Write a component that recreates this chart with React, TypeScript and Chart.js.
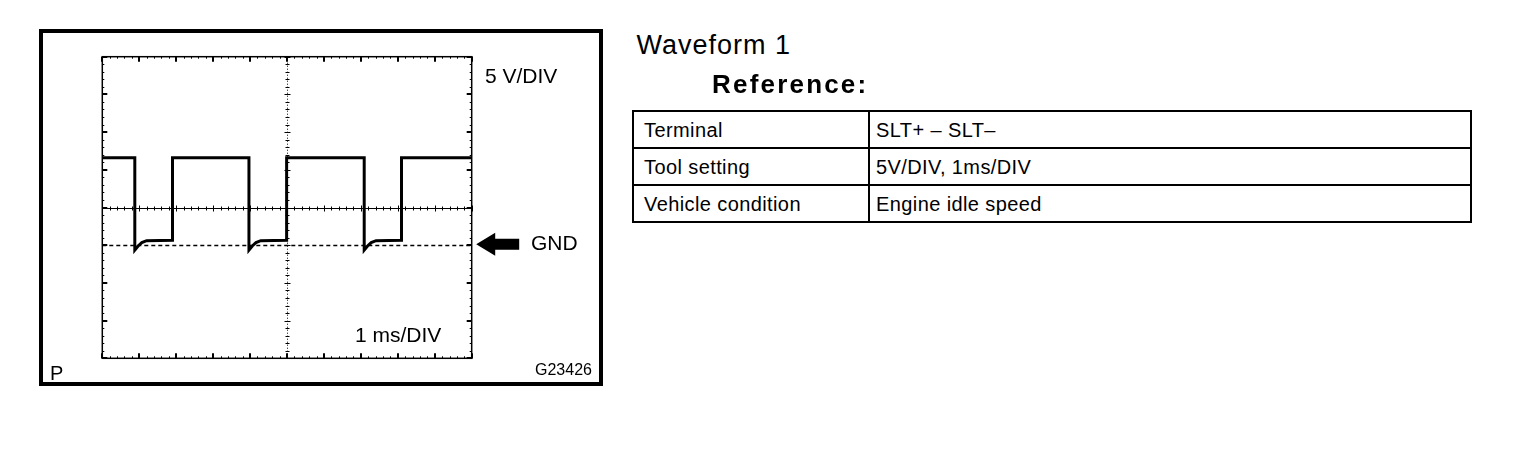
import React, { useEffect, useRef } from "react";
import { Chart, registerables } from "chart.js";

Chart.register(...registerables);

// ---- Data ----
// time in ms, voltage in V (5 V/DIV, 1 ms/DIV, GND three divisions above bottom)
const timeMs = [0, 0.88, 0.88, 0.97, 1.07, 1.2, 1.9, 1.9, 3.97, 3.97, 4.06, 4.16, 4.29, 4.99, 4.99, 7.09, 7.09, 7.18, 7.28, 7.41, 8.1, 8.1, 10];
const voltage = [11.6, 11.6, -0.65, -0.1, 0.35, 0.6, 0.65, 11.6, 11.6, -0.65, -0.1, 0.35, 0.6, 0.65, 11.6, 11.6, -0.65, -0.1, 0.35, 0.6, 0.65, 11.6, 11.6];

const xTicksMs = [0, 1, 2, 3, 4, 5, 6, 7, 8, 9, 10];
const yTicksV = [-15, -10, -5, 0, 5, 10, 15, 20, 25];
const centerTimeMs = 5;
const centerVoltage = 5;
const gndVoltage = 0;

const voltLabel = "5 V/DIV";
const timeLabel = "1 ms/DIV";
const gndLabel = "GND";
const figureCode = "G23426";
const cornerMark = "P";

const titleText = "Waveform 1";
const subtitleText = "Reference:";
const tableLabels = ["Terminal", "Tool setting", "Vehicle condition"];
const tableValues = ["SLT+ \u2013 SLT\u2013", "5V/DIV, 1ms/DIV", "Engine idle speed"];

const FONT = '"Liberation Sans", Arial, Helvetica, sans-serif';

const graticulePlugin = {
  id: "graticule",
  beforeDatasetsDraw(chart: any) {
    const { ctx, chartArea, scales } = chart;
    const { left, right, top, bottom } = chartArea;
    const xs = scales.x;
    const ys = scales.y;
    const line = (x1: number, y1: number, x2: number, y2: number) => {
      ctx.beginPath();
      ctx.moveTo(x1, y1);
      ctx.lineTo(x2, y2);
      ctx.stroke();
    };
    ctx.save();
    ctx.strokeStyle = "#000";

    // minor ticks (5 per division) along the edges
    ctx.lineWidth = 1;
    const xStep = (xTicksMs[1] - xTicksMs[0]) / 5;
    const yStep = (yTicksV[1] - yTicksV[0]) / 5;
    for (let v = xTicksMs[0]; v <= xTicksMs[xTicksMs.length - 1] + 1e-9; v += xStep) {
      const px = Math.round(xs.getPixelForValue(v)) + 0.5;
      line(px, top, px, top + 2);
      line(px, bottom, px, bottom - 2);
    }
    for (let v = yTicksV[0]; v <= yTicksV[yTicksV.length - 1] + 1e-9; v += yStep) {
      const py = Math.round(ys.getPixelForValue(v)) + 0.5;
      line(left, py, left + 2, py);
      line(right, py, right - 2, py);
    }

    // major ticks
    ctx.lineWidth = 2;
    xTicksMs.forEach((v) => {
      const px = Math.round(xs.getPixelForValue(v));
      line(px, top, px, top + 5);
      line(px, bottom, px, bottom - 5);
    });
    yTicksV.forEach((v) => {
      const py = Math.round(ys.getPixelForValue(v));
      line(left, py, left + 5, py);
      line(right, py, right - 5, py);
    });

    // center vertical dotted line with small crosses
    const cx = Math.round(xs.getPixelForValue(centerTimeMs)) + 0.5;
    ctx.lineWidth = 1;
    ctx.setLineDash([1, 2]);
    line(cx, top, cx, bottom);
    ctx.setLineDash([]);
    for (let v = yTicksV[0]; v <= yTicksV[yTicksV.length - 1] + 1e-9; v += yStep) {
      const py = Math.round(ys.getPixelForValue(v)) + 0.5;
      line(cx - 2, py, cx + 2, py);
    }
    yTicksV.forEach((v) => {
      const py = Math.round(ys.getPixelForValue(v)) + 0.5;
      line(cx - 3, py, cx + 3, py);
    });

    // center horizontal line with small ticks
    const cy = Math.round(ys.getPixelForValue(centerVoltage)) + 0.5;
    ctx.lineWidth = 1;
    line(left, cy, right, cy);
    for (let v = xTicksMs[0]; v <= xTicksMs[xTicksMs.length - 1] + 1e-9; v += xStep) {
      const px = Math.round(xs.getPixelForValue(v)) + 0.5;
      line(px, cy - 2, px, cy + 2);
    }
    xTicksMs.forEach((v) => {
      const px = Math.round(xs.getPixelForValue(v)) + 0.5;
      line(px, cy - 3, px, cy + 3);
    });

    // GND dashed line
    const gy = Math.round(ys.getPixelForValue(gndVoltage)) + 0.5;
    ctx.lineWidth = 1.5;
    ctx.setLineDash([4, 3]);
    line(left, gy, right, gy);
    ctx.setLineDash([]);

    // plot border
    ctx.lineWidth = 1.5;
    ctx.strokeRect(left, top, right - left, bottom - top);
    ctx.restore();
  },
  afterDraw(chart: any) {
    const { ctx, chartArea, scales } = chart;
    const gy = scales.y.getPixelForValue(gndVoltage) - 1;
    const tip = chartArea.right + 4.5;
    ctx.save();
    ctx.fillStyle = "#000";
    ctx.beginPath();
    ctx.moveTo(tip, gy);
    ctx.lineTo(tip + 19, gy - 11.5);
    ctx.lineTo(tip + 19, gy - 5.5);
    ctx.lineTo(tip + 43, gy - 5.5);
    ctx.lineTo(tip + 43, gy + 5.5);
    ctx.lineTo(tip + 19, gy + 5.5);
    ctx.lineTo(tip + 19, gy + 11.5);
    ctx.closePath();
    ctx.fill();
    ctx.restore();
  },
};

const abs = (left: number, top: number, size: number, extra: any = {}) => ({
  position: "absolute" as const,
  left,
  top,
  fontSize: size,
  lineHeight: `${size}px`,
  whiteSpace: "nowrap" as const,
  color: "#000",
  ...extra,
});

export default function App() {
  const canvasRef = useRef<HTMLCanvasElement | null>(null);

  useEffect(() => {
    if (!canvasRef.current) return;
    const chart = new Chart(canvasRef.current, {
      type: "line",
      data: {
        datasets: [
          {
            data: timeMs.map((t, i) => ({ x: t, y: voltage[i] })),
            borderColor: "#000",
            borderWidth: 3,
            pointRadius: 0,
            tension: 0,
            fill: false,
            borderJoinStyle: "miter",
          },
        ],
      },
      options: {
        responsive: false,
        animation: false,
        devicePixelRatio: 1,
        layout: { padding: { left: 94.3, top: 48.7, right: 136.3, bottom: 39.7 } },
        plugins: { legend: { display: false }, tooltip: { enabled: false } },
        scales: {
          x: { type: "linear", min: xTicksMs[0], max: xTicksMs[xTicksMs.length - 1], display: false },
          y: { type: "linear", min: yTicksV[0], max: yTicksV[yTicksV.length - 1], display: false },
        },
      },
      plugins: [graticulePlugin],
    });
    return () => chart.destroy();
  }, []);

  return (
    <div style={{ position: "relative", width: 1504, height: 460, fontFamily: FONT, background: "#fff" }}>
      <div
        style={{
          position: "absolute",
          left: 31,
          top: 21,
          width: 564,
          height: 357,
          boxSizing: "border-box",
          border: "4px solid #000",
        }}
      />
      <canvas
        ref={canvasRef}
        width={600}
        height={390}
        style={{ position: "absolute", left: 0, top: 0, width: 600, height: 390 }}
      />
      <div style={abs(477, 57.2, 21)}>{voltLabel}</div>
      <div style={abs(523, 224.2, 21)}>{gndLabel}</div>
      <div style={abs(347, 315.7, 21)}>{timeLabel}</div>
      <div style={abs(527, 353.5, 16)}>{figureCode}</div>
      <div style={abs(42, 354.6, 20)}>{cornerMark}</div>

      <div style={abs(628.5, 23.6, 27, { letterSpacing: "1px" })}>{titleText}</div>
      <div style={abs(704, 63, 26, { fontWeight: "bold", letterSpacing: "2.2px" })}>{subtitleText}</div>

      <table
        style={{
          position: "absolute",
          left: 624,
          top: 102,
          width: 840,
          borderCollapse: "collapse",
          tableLayout: "fixed",
          fontFamily: FONT,
          fontSize: 20,
        }}
      >
        <colgroup>
          <col style={{ width: 236 }} />
          <col />
        </colgroup>
        <tbody>
          {tableLabels.map((label, i) => (
            <tr key={label} style={{ height: 37 }}>
              <td style={{ border: "2px solid #000", padding: "2px 0 0 10px", letterSpacing: "0.4px", whiteSpace: "nowrap" }}>{label}</td>
              <td style={{ border: "2px solid #000", padding: "2px 0 0 6px", letterSpacing: "0.4px", whiteSpace: "nowrap" }}>{tableValues[i]}</td>
            </tr>
          ))}
        </tbody>
      </table>
    </div>
  );
}
